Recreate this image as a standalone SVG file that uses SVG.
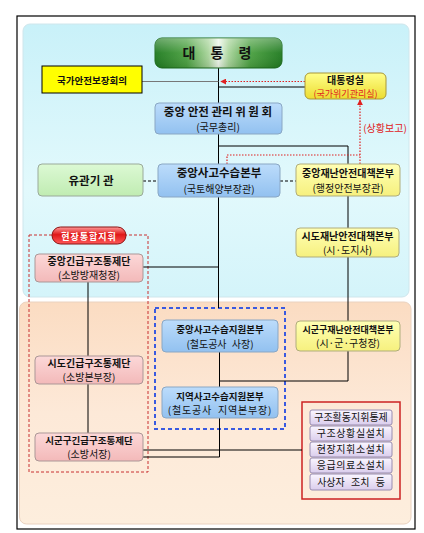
<svg xmlns="http://www.w3.org/2000/svg" width="424" height="533" viewBox="0 0 424 533">
<defs>
<linearGradient id="gTop" x1="0" y1="0" x2="0" y2="1"><stop offset="0" stop-color="#c9f1f9"/><stop offset="0.6" stop-color="#e2f9fc"/><stop offset="1" stop-color="#d4f4fa"/></linearGradient>
<linearGradient id="gBot" x1="0" y1="0" x2="0" y2="1"><stop offset="0" stop-color="#fbdcc2"/><stop offset="0.5" stop-color="#fde9d8"/><stop offset="1" stop-color="#fdeedd"/></linearGradient>
<linearGradient id="gPres" x1="0" y1="0" x2="1" y2="0"><stop offset="0" stop-color="#1f7a1f"/><stop offset="0.25" stop-color="#4aa040"/><stop offset="0.42" stop-color="#a8d49a"/><stop offset="0.5" stop-color="#eef7ea"/><stop offset="0.58" stop-color="#a8d49a"/><stop offset="0.75" stop-color="#4aa040"/><stop offset="1" stop-color="#1f7a1f"/></linearGradient>
<linearGradient id="gGloss" x1="0" y1="0" x2="0" y2="1"><stop offset="0" stop-color="#ffffff" stop-opacity="0.35"/><stop offset="0.5" stop-color="#ffffff" stop-opacity="0.05"/><stop offset="1" stop-color="#000000" stop-opacity="0.1"/></linearGradient>
<linearGradient id="gBlue" x1="0" y1="0" x2="0" y2="1"><stop offset="0" stop-color="#bcdcfb"/><stop offset="1" stop-color="#92c1f0"/></linearGradient>
<linearGradient id="gYel" x1="0" y1="0" x2="0" y2="1"><stop offset="0" stop-color="#ffffb4"/><stop offset="1" stop-color="#f6f07e"/></linearGradient>
<linearGradient id="gOff" x1="0" y1="0" x2="0" y2="1"><stop offset="0" stop-color="#ffff8a"/><stop offset="1" stop-color="#ecdc30"/></linearGradient>
<linearGradient id="gPink" x1="0" y1="0" x2="0" y2="1"><stop offset="0" stop-color="#fcd8d8"/><stop offset="1" stop-color="#f3b9b9"/></linearGradient>
<linearGradient id="gGreen" x1="0" y1="0" x2="0" y2="1"><stop offset="0" stop-color="#dcf9d4"/><stop offset="1" stop-color="#c0ecb2"/></linearGradient>
<linearGradient id="gLav" x1="0" y1="0" x2="0" y2="1"><stop offset="0" stop-color="#faf6ff"/><stop offset="1" stop-color="#dacdec"/></linearGradient>
<linearGradient id="gPill" x1="0" y1="0" x2="0" y2="1"><stop offset="0" stop-color="#ff9a9a"/><stop offset="0.45" stop-color="#e01818"/><stop offset="1" stop-color="#ff5a5a"/></linearGradient>
<marker id="arrRed" viewBox="0 0 8 8" refX="7" refY="4" markerWidth="6" markerHeight="6" orient="auto" markerUnits="userSpaceOnUse"><path d="M0,0 L8,4 L0,8 z" fill="#e02020"/></marker>
<style>
text{font-family:"Noto Sans CJK KR","Noto Sans",sans-serif;text-anchor:middle;fill:#111}
.t{font-weight:bold;font-size:11.5px}
.ty{font-weight:bold;font-size:10px}
.s{font-size:10px}
.blue{fill:url(#gBlue);stroke:#8aa7c4;stroke-width:1}
.yel{fill:url(#gYel);stroke:#b0ad7c;stroke-width:1}
.pink{fill:url(#gPink);stroke:#ab9797;stroke-width:1}
.lav{fill:url(#gLav);stroke:#988cb0;stroke-width:1}
.ln{stroke:#000;stroke-width:1;fill:none}
.dsh{stroke:#000;stroke-width:1;fill:none;stroke-dasharray:3,2}
.red{stroke:#e02020;stroke-width:1.2;fill:none;stroke-dasharray:1.5,1.5}
</style>
</defs>

<g id="background">
<rect x="17" y="16" width="398" height="513" fill="#ffffff" stroke="#000" stroke-width="1.2"/>
<rect x="23" y="24" width="386" height="273" rx="7" fill="url(#gTop)" stroke="#cfe6ec"/>
<rect x="19.5" y="302" width="391.5" height="222" rx="7" fill="url(#gBot)" stroke="#ead2c0"/>
</g>

<g id="groups">
<rect x="29" y="235" width="119" height="237" fill="none" stroke="#c83030" stroke-width="1" stroke-dasharray="3,2"/>
<rect x="155" y="308" width="130" height="121" fill="none" stroke="#3a5ae0" stroke-width="2" stroke-dasharray="4,3"/>
<rect x="302" y="402" width="98" height="97" fill="none" stroke="#cc2222" stroke-width="1.5"/>
</g>

<g id="connectors">
<path class="ln" d="M218.5,68 V103 M218.5,134 V164 M218.5,197 V308 M219.5,352 V387 M219.5,418 V457 H143"/>
<path d="M142,81.5 H218.5" stroke="#777" stroke-width="1" fill="none"/>
<path class="red" d="M305,81.5 H221" marker-end="url(#arrRed)"/>
<path class="ln" d="M218.5,87 H305"/>
<path class="ln" d="M218.5,146 H348 V164"/>
<path class="red" d="M227,164 V155 H360"/>
<path class="red" d="M360,164 V100" marker-end="url(#arrRed)"/>
<path class="dsh" d="M143,181 H158 M280,181 H296"/>
<path class="ln" d="M348,196 V228 M348,257 V321 M348,351 V381 H219.5"/>
<path class="ln" d="M143,267 H218.5"/>
<path class="ln" d="M88,282 V356 M88,384 V433"/>
<path class="ln" d="M143,450 H302"/>
</g>

<g id="n-president">
<rect x="155" y="38" width="127" height="30" rx="7" fill="url(#gPres)" stroke="#1a6a1a"/>
<rect x="155" y="38" width="127" height="30" rx="7" fill="url(#gGloss)"/>
<text x="220" y="58" style="font-weight:bold;font-size:14px;letter-spacing:6px">대 통 령</text>
</g>

<g id="n-nsc">
<rect x="42" y="66" width="100" height="27" fill="#ffff00" stroke="#000" stroke-width="1"/>
<text x="92" y="83.5" style="font-weight:bold;font-size:9.5px">국가안전보장회의</text>
</g>

<g id="n-office">
<rect x="305" y="73" width="81" height="26" rx="5" fill="url(#gOff)" stroke="#a89638"/>
<text x="345.5" y="83.5" style="font-weight:bold;font-size:10px">대통령실</text>
<text x="345.5" y="96.5" style="font-size:9px;fill:#e02020">(국가위기관리실)</text>
</g>

<text id="l-report" x="385" y="132" style="font-size:10px;fill:#e02020">(상황보고)</text>

<g id="n-csc">
<rect class="blue" x="155" y="103" width="127" height="31" rx="4"/>
<text class="t" x="218" y="115.5">중앙 안전 관리 위 원 회</text>
<text class="s" x="218" y="131">(국무총리)</text>
</g>

<g id="n-related">
<rect x="38" y="164" width="105" height="32" rx="4" fill="url(#gGreen)" stroke="#9aaa9a"/>
<text x="91" y="185" style="font-weight:bold;font-size:11.5px">유관기 관</text>
</g>

<g id="n-cdrh">
<rect class="blue" x="158" y="164" width="122" height="33" rx="4"/>
<text class="t" x="219" y="177">중앙사고수습본부</text>
<text class="s" x="219" y="192.5">(국토해양부장관)</text>
</g>

<g id="n-cdsch">
<rect class="yel" x="296" y="164" width="104" height="32" rx="4"/>
<text class="ty" x="348" y="176.5">중앙재난안전대책본부</text>
<text class="s" x="348" y="191.5">(행정안전부장관)</text>
</g>

<g id="n-sido-dsch">
<rect class="yel" x="296" y="228" width="103" height="29" rx="4"/>
<text class="ty" x="347.5" y="239.5">시도재난안전대책본부</text>
<text class="s" x="347.5" y="253.5">(시·도지사)</text>
</g>

<g id="n-sigungu-dsch">
<rect class="yel" x="296" y="321" width="104" height="30" rx="4"/>
<text x="348" y="332.5" style="font-weight:bold;font-size:9px">시군구재난안전대책본부</text>
<text class="s" x="348" y="347">(시·군·구청장)</text>
</g>

<g id="n-field">
<rect x="52" y="227" width="74" height="17" rx="8.5" fill="url(#gPill)" stroke="#8a1010"/>
<text x="89" y="239.5" style="font-weight:bold;font-size:9px;fill:#ffffff;letter-spacing:1px">현장통합지휘</text>
</g>

<g id="n-c-rescue">
<rect class="pink" x="35" y="254" width="108" height="28" rx="4"/>
<text class="ty" x="89" y="265">중앙긴급구조통제단</text>
<text class="s" x="89" y="279">(소방방재청장)</text>
</g>

<g id="n-sido-rescue">
<rect class="pink" x="35" y="356" width="108" height="28" rx="4"/>
<text class="ty" x="89" y="367">시도긴급구조통제단</text>
<text class="s" x="89" y="381">(소방본부장)</text>
</g>

<g id="n-sigungu-rescue">
<rect class="pink" x="35" y="433" width="108" height="28" rx="4"/>
<text x="89" y="444" style="font-weight:bold;font-size:9.5px">시군구긴급구조통제단</text>
<text class="s" x="89" y="458">(소방서장)</text>
</g>

<g id="n-c-support">
<rect class="blue" x="162" y="320" width="116" height="32" rx="4"/>
<text x="220" y="332.5" style="font-weight:bold;font-size:9.5px">중앙사고수습지원본부</text>
<text class="s" x="220" y="347.5" style="word-spacing:3px">(철도공사 사장)</text>
</g>

<g id="n-r-support">
<rect class="blue" x="162" y="387" width="116" height="31" rx="4"/>
<text x="220" y="399.5" style="font-weight:bold;font-size:9.5px">지역사고수습지원본부</text>
<text class="s" x="220" y="414" style="letter-spacing:0.8px;word-spacing:3px">(철도공사 지역본부장)</text>
</g>

<g id="n-tasks">
<rect class="lav" x="310" y="410" width="82" height="15" rx="2"/>
<text class="s" x="351" y="421">구조활동지휘통제</text>
<rect class="lav" x="310" y="426" width="82" height="15" rx="2"/>
<text class="s" x="351" y="437" style="letter-spacing:0.6px">구조상황실설치</text>
<rect class="lav" x="310" y="442" width="82" height="15" rx="2"/>
<text class="s" x="351" y="453" style="letter-spacing:0.6px">현장지휘소설치</text>
<rect class="lav" x="310" y="458" width="82" height="15" rx="2"/>
<text class="s" x="351" y="469" style="letter-spacing:0.6px">응급의료소설치</text>
<rect class="lav" x="310" y="474" width="82" height="16" rx="2"/>
<text class="s" x="351" y="485.5" style="word-spacing:4px">사상자 조치 등</text>
</g>
</svg>
